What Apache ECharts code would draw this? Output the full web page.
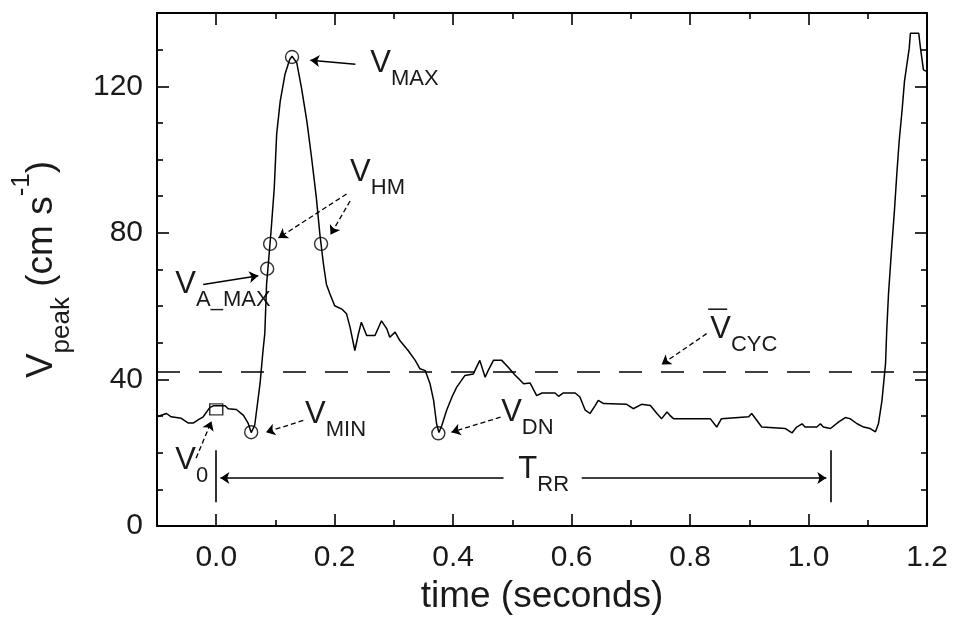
<!DOCTYPE html>
<html><head><meta charset="utf-8">
<script src="https://cdn.jsdelivr.net/npm/echarts@6/dist/echarts.min.js"></script>
<style>html,body{margin:0;padding:0;background:#fff}#c{width:954px;height:620px}</style>
</head><body><div id="c"></div>
<script>
// ---- data ----
const times = [-0.100,-0.084,-0.076,-0.059,-0.047,-0.039,-0.030,-0.022,-0.011,-0.005,0.015,0.020,0.034,0.046,0.054,0.059,0.065,0.074,0.079,0.082,0.085,0.088,0.093,0.098,0.102,0.108,0.116,0.124,0.128,0.136,0.144,0.153,0.161,0.169,0.175,0.181,0.186,0.192,0.200,0.212,0.220,0.226,0.234,0.240,0.245,0.254,0.268,0.279,0.288,0.293,0.302,0.310,0.324,0.336,0.344,0.353,0.361,0.367,0.372,0.376,0.381,0.389,0.398,0.406,0.420,0.434,0.445,0.454,0.459,0.468,0.482,0.493,0.505,0.512,0.519,0.530,0.541,0.550,0.572,0.578,0.586,0.606,0.614,0.623,0.631,0.640,0.645,0.654,0.693,0.704,0.718,0.733,0.744,0.752,0.761,0.766,0.772,0.834,0.845,0.853,0.899,0.904,0.921,0.961,0.972,0.980,0.989,0.994,1.014,1.020,1.025,1.037,1.051,1.062,1.070,1.082,1.093,1.104,1.113,1.118,1.124,1.130,1.132,1.135,1.140,1.145,1.149,1.153,1.158,1.162,1.166,1.170,1.172,1.186,1.189,1.194,1.200];
const vpeak = [29.8,30.7,29.8,29.4,28.1,28.1,29.0,29.8,32.3,32.8,32.8,32.0,31.8,30.2,28.0,25.5,27.5,38.9,47.9,52.5,66.0,71.6,81.4,92.3,106.9,115.9,123.2,127.3,128.2,126.4,119.5,110.5,100.5,89.6,79.6,71.5,66.0,63.3,60.1,59.2,57.9,54.2,47.9,52.4,55.6,52.0,52.0,56.0,53.8,51.5,52.9,50.6,47.9,45.2,42.9,42.4,38.8,34.3,27.9,25.5,27.5,31.6,35.2,37.9,41.1,41.5,45.2,40.6,42.4,45.2,45.2,43.3,41.1,40.0,38.8,39.0,35.6,36.3,36.3,35.4,36.3,36.3,35.2,31.6,30.7,32.9,34.3,33.4,33.2,32.0,33.2,32.9,30.7,29.3,31.1,30.2,29.3,29.3,27.0,29.3,29.8,30.7,27.0,26.6,25.4,27.0,27.9,27.0,27.0,27.9,27.0,26.6,28.4,29.6,29.3,27.9,27.0,26.6,25.7,27.9,34.3,44.3,53.3,63.3,75.1,86.0,96.0,105.0,113.6,121.4,125.9,130.4,134.5,134.5,130.4,124.5,124.0];

const xMajorTicks = [0, 0.2, 0.4, 0.6, 0.8, 1.0, 1.2];
const xMinorTicks = [0.1, 0.3, 0.5, 0.7, 0.9, 1.1];
const yMajorTicks = [0, 40, 80, 120];
const yMinorTicks = [10, 20, 30, 50, 60, 70, 90, 100, 110, 130];

const vCyc = 42;
const circleT = [0.059, 0.086, 0.091, 0.177, 0.128, 0.375];
const circleV = [25.6, 70.2, 77.0, 77.0, 128.0, 25.3];
const squareT = [0.0];
const squareV = [31.8];

// annotation labels (data-space anchor = left edge / centre of main letter)
const annText = ['{m|V}{s|MAX}', '{m|V}{s|HM}', '{m|V}{s|A_MAX}', '{m|V}{s|0}', '{m|V}{s|MIN}', '{m|V}{s|DN}', '{m|V}{s|CYC}', '{m|T}{s|RR}'];
const annT = [0.260, 0.226, -0.069, -0.069, 0.150, 0.481, 0.834, 0.510];
const annV = [126.1, 96.5, 65.9, 18.0, 30.5, 30.9, 53.7, 15.5];
const annOverbar = [false, false, false, false, false, false, true, false];

// arrows: from (t1,v1) to (t2,v2), dashed flag
const arrowFromT = [0.235, 0.220, 0.226, -0.022, -0.034, 0.147, 0.480, 0.828, 0.485, 0.617];
const arrowFromV = [126.0, 90.6, 88.7, 65.9, 18.5, 28.8, 29.7, 52.5, 13.1, 13.1];
const arrowToT = [0.159, 0.105, 0.193, 0.071, -0.008, 0.084, 0.397, 0.752, 0.007, 1.030];
const arrowToV = [127.1, 78.6, 79.5, 68.3, 28.6, 25.6, 25.6, 44.1, 13.1, 13.1];
const arrowDashed = [false, true, true, false, true, true, true, true, false, false];

// T_RR interval bars
const barT = [0.0, 1.037];
const barLow = 6.5, barHigh = 20.7;

// ---- chart ----
const FONT = "'Liberation Sans', Arial, Helvetica, sans-serif";
const chart = echarts.init(document.getElementById('c'), null, {renderer: 'canvas'});

function xAx(pos, ticks, len, showLabel, showLine) {
  return {
    type: 'value', min: -0.1, max: 1.2, position: pos,
    axisLine: {show: showLine, onZero: false, lineStyle: {color: '#000', width: 2}},
    axisTick: {show: true, inside: true, length: len, customValues: ticks, lineStyle: {color: '#000', width: 1.6}},
    axisLabel: {show: showLabel, customValues: ticks, formatter: v => v.toFixed(1), margin: 17,
      fontSize: 30, color: '#1a1a1a', fontFamily: FONT},
    splitLine: {show: false}
  };
}
function yAx(pos, ticks, len, showLabel, showLine) {
  return {
    type: 'value', min: 0, max: 140, position: pos,
    axisLine: {show: showLine, onZero: false, lineStyle: {color: '#000', width: 2}},
    axisTick: {show: true, inside: true, length: len, customValues: ticks, lineStyle: {color: '#000', width: 1.6}},
    axisLabel: {show: showLabel, customValues: ticks, margin: 14,
      fontSize: 30, color: '#1a1a1a', fontFamily: FONT},
    splitLine: {show: false}
  };
}

const xAxes = [xAx('bottom', xMajorTicks, 12, true, true), xAx('bottom', xMinorTicks, 6, false, false),
               xAx('top', xMajorTicks, 12, false, true), xAx('top', xMinorTicks, 6, false, false)];
xAxes[0].name = 'time (seconds)';
xAxes[0].nameLocation = 'middle';
xAxes[0].nameGap = 44;
xAxes[0].nameTextStyle = {fontSize: 37, color: '#1a1a1a', fontFamily: FONT};

const yAxes = [yAx('left', yMajorTicks, 12, true, true), yAx('left', yMinorTicks, 6, false, false),
               yAx('right', yMajorTicks, 12, false, true), yAx('right', yMinorTicks, 6, false, false)];
yAxes[0].name = '{m|V}{s|peak}{m| (cm s}{p|-1}{m|)}';
yAxes[0].nameLocation = 'middle';
yAxes[0].nameRotate = 90;
yAxes[0].nameGap = 82;
yAxes[0].nameTextStyle = {
  color: '#1a1a1a', fontFamily: FONT,
  rich: {
    m: {fontSize: 37, lineHeight: 66, verticalAlign: 'middle', fontFamily: FONT, color: '#1a1a1a'},
    s: {fontSize: 26, verticalAlign: 'bottom', fontFamily: FONT, color: '#1a1a1a'},
    p: {fontSize: 26, verticalAlign: 'top', fontFamily: FONT, color: '#1a1a1a'}
  }
};

const markLines = [];
for (let i = 0; i < arrowFromT.length; i++) {
  markLines.push([
    {coord: [arrowFromT[i], arrowFromV[i]], symbol: 'none',
     lineStyle: {color: '#000', width: arrowDashed[i] ? 1.3 : 1.5, type: arrowDashed[i] ? [5, 3] : 'solid'}},
    {coord: [arrowToT[i], arrowToV[i]], symbol: 'arrow', symbolSize: 9}
  ]);
}
for (let i = 0; i < barT.length; i++) {
  markLines.push([
    {coord: [barT[i], barLow], symbol: 'none', lineStyle: {color: '#000', width: 1.6, type: 'solid'}},
    {coord: [barT[i], barHigh], symbol: 'none'}
  ]);
}
markLines.push([
  {coord: [-0.1, vCyc], symbol: 'none', lineStyle: {color: '#000', width: 1.6, type: [23, 19]}},
  {coord: [1.2, vCyc], symbol: 'none'}
]);

chart.setOption({
  animation: false,
  backgroundColor: '#fff',
  grid: {left: 157, right: 27, top: 13, bottom: 94, containLabel: false, outerBoundsMode: 'none'},
  xAxis: xAxes,
  yAxis: yAxes,
  series: [
    {
      type: 'line', xAxisIndex: 0, yAxisIndex: 0, silent: true,
      data: times.map((t, i) => [t, vpeak[i]]),
      showSymbol: false, symbol: 'none',
      lineStyle: {color: '#000', width: 1.5},
      markLine: {silent: true, animation: false, label: {show: false}, symbol: ['none', 'arrow'], symbolSize: 9,
        emphasis: {disabled: true}, data: markLines}
    },
    {
      type: 'scatter', xAxisIndex: 0, yAxisIndex: 0, silent: true,
      data: circleT.map((t, i) => [t, circleV[i]]),
      symbol: 'circle', symbolSize: 13,
      itemStyle: {color: 'rgba(0,0,0,0)', borderColor: '#000', borderWidth: 1.4}
    },
    {
      type: 'scatter', xAxisIndex: 0, yAxisIndex: 0, silent: true,
      data: squareT.map((t, i) => [t, squareV[i]]),
      symbol: 'rect', symbolSize: [13, 11],
      itemStyle: {color: 'rgba(0,0,0,0)', borderColor: '#000', borderWidth: 1.4}
    }
  ]
});

const annRich = {
  m: {fontSize: 31, lineHeight: 42, verticalAlign: 'top', fontFamily: FONT, fill: '#1a1a1a'},
  s: {fontSize: 22, verticalAlign: 'bottom', fontFamily: FONT, fill: '#1a1a1a'}
};
const graphics = [];
annText.forEach((txt, i) => {
  const p = chart.convertToPixel({gridIndex: 0}, [annT[i], annV[i]]);
  graphics.push({
    type: 'text', x: p[0], y: p[1] - 15.5, silent: true,
    style: {text: txt, rich: annRich, align: 'left', verticalAlign: 'top', fill: '#1a1a1a', fontFamily: FONT}
  });
  if (annOverbar[i]) {
    graphics.push({
      type: 'line', silent: true,
      shape: {x1: p[0] - 2, y1: p[1] - 20, x2: p[0] + 17, y2: p[1] - 20},
      style: {stroke: '#1a1a1a', lineWidth: 1.6}
    });
  }
});
chart.setOption({graphic: graphics});
</script>
</body></html>
